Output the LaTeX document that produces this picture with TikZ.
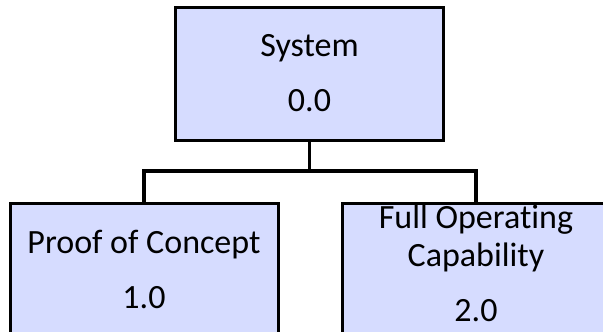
\documentclass[tikz,border=0pt]{standalone}
\usepackage{fontspec}
\setmainfont{Carlito}[Ligatures=NoCommon]
\usetikzlibrary{positioning}

\definecolor{wbsfill}{RGB}{214,220,255}

\begin{document}
\begin{tikzpicture}[
    wbs/.style={rectangle, draw=black, line width=3pt, fill=wbsfill,
                minimum width=268pt, minimum height=133pt, inner sep=0pt,
                align=center, font=\fontsize{34}{38}\selectfont},
    link/.style={draw=black, line width=3.5pt},
]
\useasboundingbox (0,0) rectangle (603pt,-332pt);

% Top level
\node[wbs] (sys) at (309.5pt,-73.5pt) {System\\[17pt]0.0};

% Second level
\node[wbs, below left=60pt and 30pt of sys.south] (poc) {Proof of Concept\\[17pt]1.0};
\node[wbs, below right=60pt and 31pt of sys.south, text depth=12pt] (foc) {Full Operating\\Capability\\[17pt]2.0};

% Connectors
\coordinate[below=29.5pt of sys.south] (bar);
\draw[link] (sys.south) -- (bar) -| (poc.north);
\draw[link] (bar) -| (foc.north);

\end{tikzpicture}
\end{document}
